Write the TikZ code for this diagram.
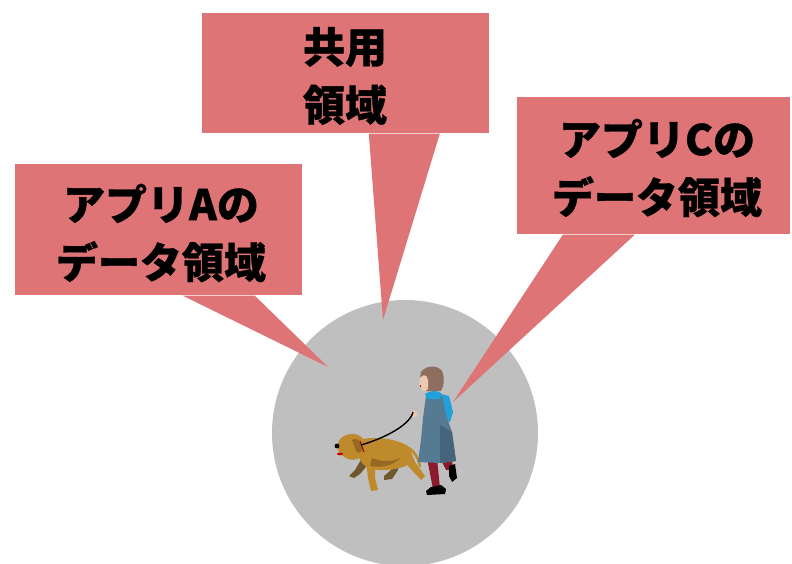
\documentclass[tikz,border=0pt]{standalone}
\usepackage{fontspec}
\newfontfamily\jpfont{Noto Sans CJK JP}[BoldFeatures={FakeBold=0.8}]
\usetikzlibrary{calc}
\definecolor{calloutred}{RGB}{222,116,118}
\definecolor{discgrey}{RGB}{191,191,191}
\definecolor{dogbody}{RGB}{190,138,44}
\definecolor{dogshade}{RGB}{150,104,36}
\definecolor{dogfar}{RGB}{110,88,44}
\definecolor{hair}{RGB}{142,110,94}
\definecolor{skin}{RGB}{236,200,176}
\definecolor{sleeve}{RGB}{34,160,220}
\definecolor{dress}{RGB}{86,122,146}
\definecolor{dressdark}{RGB}{70,100,122}
\definecolor{tights}{RGB}{140,26,46}
\tikzset{
  calloutbox/.style={fill=calloutred, draw=none, inner sep=0pt, align=center,
    font=\jpfont\bfseries\fontsize{42}{58}\selectfont},
  callouttail/.style={fill=calloutred, draw=none},
}
\begin{document}
\begin{tikzpicture}[x=1pt,y=-1pt]
\useasboundingbox (0,0) rectangle (792,564);

% the disc
\node[circle, fill=discgrey, minimum size=266pt, inner sep=0pt] (disc) at (405,433) {};

% pointer tips of the three callouts
\coordinate (tipA) at (328,367);
\coordinate (tipS) at (383,320);
\coordinate (tipC) at (453,402);

% callout boxes
\node[calloutbox, minimum width=287pt, minimum height=131pt] (boxA) at (158.5,229.5) {};
\node[calloutbox, minimum width=287pt, minimum height=120pt] (boxS) at (345.5,73) {};
\node[calloutbox, minimum width=273pt, minimum height=137pt] (boxC) at (653.5,165.5) {};

% tails
\fill[callouttail] ($(boxA.south west)+(168,0.5)$) -- (tipA) -- ($(boxA.south west)+(240,0.5)$) -- cycle;
\fill[callouttail] ($(boxS.south west)+(167,0.5)$) -- (tipS) -- ($(boxS.south west)+(238,0.5)$) -- cycle;
\fill[callouttail] ($(boxC.south west)+(46,0.5)$) -- (tipC) -- ($(boxC.south west)+(118,0.5)$) -- cycle;

% texts
\node[calloutbox, fill=none] (textA) at (161,233) {アプリAの\\データ領域};
\node[calloutbox, fill=none] (textS) at (345,76) {共用\\領域};
\node[calloutbox, fill=none] (textC) at (657,168) {アプリCの\\データ領域};

% ---- dog ----
% far legs
\fill[dogfar] (362,458) -- (370,462) -- (360,474) -- (354,478) -- (349,476) -- (355,470) -- cycle;
\fill[dogfar] (392,456) -- (400,458) -- (398,470) -- (392,479) -- (384,480) -- (384,476) -- (391,470) -- cycle;
% body
\fill[dogbody] (358,440) .. controls (372,436) and (395,438) .. (408,446)
  .. controls (414,452) and (412,462) .. (406,466)
  .. controls (395,470) and (378,472) .. (368,468)
  .. controls (360,464) and (355,452) .. cycle;
% near front leg
\fill[dogbody] (366,460) -- (375,462) -- (375,478) -- (378,490) -- (371,491) -- (368,478) -- cycle;
% near hind leg
\fill[dogbody] (398,452) -- (410,450) -- (415,462) -- (425,476) -- (421,480) -- (408,466) -- cycle;
% tail
\draw[dogbody, line width=2.5pt, line cap=round] (409,448) .. controls (415,452) and (418,458) .. (420,466);
% head
\fill[dogbody] (338,444) .. controls (339,436) and (350,432) .. (358,435)
  .. controls (366,438) and (367,450) .. (362,456)
  .. controls (356,462) and (346,460) .. (342,455)
  .. controls (338,452) and (337,448) .. cycle;
% ear
\fill[dogshade] (352,440) .. controls (358,437) and (363,442) .. (362,450)
  .. controls (360,455) and (356,453) .. (355,448) -- cycle;
% shading on the body
\fill[dogshade] (372,458) .. controls (380,462) and (392,462) .. (400,458)
  .. controls (394,466) and (380,468) .. (370,466) -- cycle;
% nose, tongue, collar
\fill[black] (337,446) circle (2.4pt);
\fill[red!80!black] (340,454) ellipse (3pt and 1.3pt);
\draw[red!60!black, line width=1pt] (360,441) -- (364,452);

% ---- walker ----
% back leg and shoe
\fill[tights] (440,458) -- (452,458) -- (453,470) -- (446,470) -- cycle;
\fill[black] (449,466) -- (455,464) -- (457,478) -- (452,482) -- (449,476) -- cycle;
% front leg and shoe
\fill[tights] (427,458) -- (437,458) -- (440,488) -- (433,489) -- cycle;
\fill[black] (431,487) -- (441,485) -- (446,489) -- (445,494) -- (427,495) -- (426,491) -- cycle;
% back sleeve and hand
\fill[sleeve] (441,394) -- (449,396) -- (453,412) -- (450,422) -- (442,420) -- cycle;
\fill[skin] (440,423) circle (3.6pt);
% dress
\fill[dress] (426,396) -- (442,395) -- (446,415) -- (452,432) -- (456,461) -- (440,463) -- (418,462) -- (421,440) -- (423,418) -- cycle;
\fill[dressdark] (440,425) -- (452,432) -- (456,461) -- (440,463) -- cycle;
% collar
\fill[sleeve] (425,394) .. controls (430,390) and (438,390) .. (442,394) -- (440,399) -- (427,399) -- cycle;
% front hand holding the leash
\fill[skin] (414,414) circle (3.4pt);
% hair and face
\fill[hair] (421,372) .. controls (426,365) and (438,365) .. (442,371)
  .. controls (445,378) and (444,386) .. (441,391)
  -- (426,391) .. controls (421,386) and (419,378) .. cycle;
\fill[skin] (420,378) .. controls (423,374) and (427,374) .. (428,380)
  -- (428,389) .. controls (426,392) and (422,392) .. (421,388)
  -- (419,384) -- cycle;
\fill[red!70!black] (420.5,386) circle (0.9pt);

% leash
\coordinate (handL) at (413,412);
\coordinate (collarL) at (361,445);
\draw[black, line width=1.4pt] (handL) .. controls (410,425) and (385,438) .. (collarL);
\end{tikzpicture}
\end{document}
